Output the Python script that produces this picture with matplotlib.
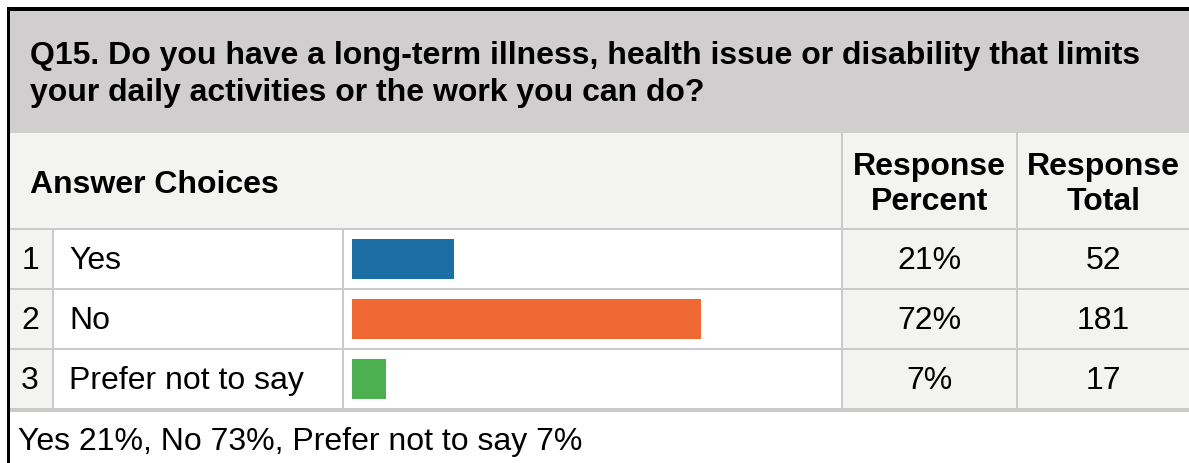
import matplotlib
matplotlib.use("Agg")
import matplotlib.pyplot as plt
from matplotlib.patches import Rectangle

# ---------------- data ----------------
question = ["Q15. Do you have a long-term illness, health issue or disability that limits",
            "your daily activities or the work you can do?"]
choices = ["Yes", "No", "Prefer not to say"]
percents = [21, 72, 7]
totals = [52, 181, 17]
footer_percents = [21, 73, 7]
bar_colors = ["#1c6fa5", "#f06833", "#4caf50"]

W, H = 1189, 463
FONT = "Liberation Sans"
FS = 23.0
LINE = "#cacaca"
LIGHT = "#f3f3f2"
TITLE_BG = "#d0cece"

fig = plt.figure(figsize=(W / 100, H / 100), dpi=100)
ax = fig.add_axes([0, 0, 1, 1])
ax.set_xlim(0, W)
ax.set_ylim(H, 0)
ax.axis("off")


def rect(x0, y0, x1, y1, color):
    ax.add_patch(Rectangle((x0, y0), x1 - x0, y1 - y0, facecolor=color,
                           edgecolor="none", lw=0))


# columns (pixel layout)
num_x = (10, 52)
lab_x = (54, 342)
bar_x = (344, 841)
pct_x = (843, 1016)
tot_x = (1018, W)
row_edges = [229, 289, 349, 409]

# title band & header band
rect(10, 11, W, 133, TITLE_BG)
rect(10, 133, W, 228, LIGHT)
# header vertical lines
rect(841, 133, 843, 228, LINE)
rect(1016, 133, 1018, 228, LINE)
rect(10, 228, W, 230, LINE)

# rows
for i in range(len(choices)):
    y0, y1 = row_edges[i] + 1, row_edges[i + 1] - 1
    rect(num_x[0], y0, num_x[1], y1, LIGHT)
    rect(lab_x[0], y0, lab_x[1], y1, "white")
    rect(bar_x[0], y0, bar_x[1], y1, "white")
    rect(pct_x[0], y0, pct_x[1], y1, LIGHT)
    rect(tot_x[0], y0, tot_x[1], y1, LIGHT)
    if i > 0:
        rect(10, row_edges[i] - 1, W, row_edges[i] + 1, LINE)
for xv in (52, 342, 841, 1016):
    rect(xv, 230, xv + 2, 408, LINE)
rect(10, 408, W, 412, LINE)

# black outer borders
rect(7, 7, W, 11, "black")
rect(7, 7, 10, H, "black")

# title text
ax.text(30, 64, question[0], fontsize=FS, fontweight="bold", family=FONT,
        va="baseline", ha="left", color="black")
ax.text(30, 101, question[1], fontsize=FS, fontweight="bold", family=FONT,
        va="baseline", ha="left", color="black")

# header
ax.text(30, 193, "Answer Choices", fontsize=FS, fontweight="bold", family=FONT,
        va="baseline", ha="left")
pc = (pct_x[0] + pct_x[1]) / 2
tc = (tot_x[0] + tot_x[1]) / 2
ax.text(pc, 175, "Response", fontsize=FS, fontweight="bold", family=FONT,
        va="baseline", ha="center")
ax.text(pc, 210, "Percent", fontsize=FS, fontweight="bold", family=FONT,
        va="baseline", ha="center")
ax.text(tc, 175, "Response", fontsize=FS, fontweight="bold", family=FONT,
        va="baseline", ha="center")
ax.text(tc, 210, "Total", fontsize=FS, fontweight="bold", family=FONT,
        va="baseline", ha="center")

# row texts
for i, (c, p, t) in enumerate(zip(choices, percents, totals)):
    base = row_edges[i] + 40
    ax.text(30, base, str(i + 1), fontsize=FS, family=FONT, va="baseline", ha="center")
    ax.text(69, base, c, fontsize=FS, family=FONT, va="baseline", ha="left")
    ax.text(pc, base, f"{p}%", fontsize=FS, family=FONT, va="baseline", ha="center")
    ax.text(tc, base, f"{t}", fontsize=FS, family=FONT, va="baseline", ha="center")

# footer
footer = ", ".join(f"{c} {p}%" for c, p in zip(choices, footer_percents))
ax.text(18, 450, footer, fontsize=FS, family=FONT, va="baseline", ha="left")

# bars: separate axes, 0-100 % spans 485 px starting at x=352
bx0, bw = 352, 485
by0, by1 = row_edges[0], row_edges[-1]
bax = fig.add_axes([bx0 / W, 1 - by1 / H, bw / W, (by1 - by0) / H])
bax.set_xlim(0, 100)
bax.set_ylim(len(choices) - 0.5, -0.5)
bax.barh(range(len(choices)), percents, height=40 / 60.0, color=bar_colors, lw=0)
bax.axis("off")
bax.patch.set_alpha(0)

fig.savefig("out.png", dpi=100)
